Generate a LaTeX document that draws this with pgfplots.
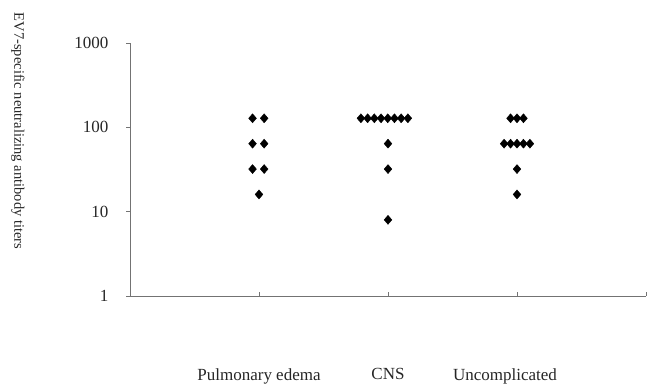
\documentclass[border=0pt]{standalone}
\usepackage{fontspec}
\setmainfont{Liberation Serif}
\usepackage{pgfplots}
\pgfplotsset{compat=1.18}
\begin{document}
\begin{tikzpicture}
\useasboundingbox (0pt,0pt) rectangle (652pt,383pt);
\begin{axis}[at={(130pt,87pt)}, anchor=south west, scale only axis,
  width=516pt, height=253pt,
  ymode=log, xmin=0, xmax=4, ymin=1, ymax=1000,
  axis lines=left, axis line style={-, black!55, line width=0.7pt},
  xtick={1,2,3,4}, xticklabels={Pulmonary edema,CNS,Uncomplicated\hspace*{24pt},{}},
  ytick={1,10,100,1000}, yticklabels={1,10,100,1000},
  yminorticks=false, xminorticks=false,
  tick align=outside, major tick length=4pt,
  tick style={black!55, line width=0.7pt},
  xtick style={yshift=4pt},
  ticklabel style={font=\fontsize{17}{20}\selectfont, text=black!85},
  yticklabel style={xshift=-14pt},
  xticklabel style={yshift=-65pt},
  ylabel={EV7-specific neutralizing antibody titers},
  ylabel style={font=\fontsize{14.5}{17}\selectfont, text=black!85, at={(axis description cs:-0.217,0.652)}, anchor=center, rotate=180},
]
\addplot[only marks, mark=diamond*, mark size=4.5pt, black, mark options={xscale=1.15}] coordinates {
(0.95,128)(1.04,128)(0.95,64)(1.04,64)(0.95,32)(1.04,32)(1.0,16)
(1.790,128)(1.842,128)(1.894,128)(1.946,128)(1.998,128)(2.050,128)(2.102,128)(2.154,128)
(2.0,64)(2.0,32)(2.0,8)
(2.95,128)(3.0,128)(3.05,128)
(2.9,64)(2.95,64)(3.0,64)(3.05,64)(3.1,64)
(3.0,32)(3.0,16)
};
\end{axis}
\end{tikzpicture}
\end{document}
